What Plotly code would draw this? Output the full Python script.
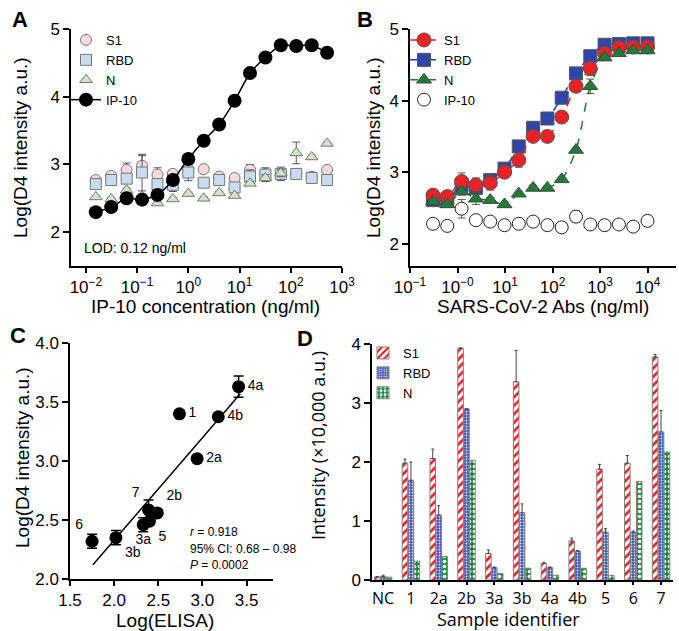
import plotly.graph_objects as go

W, H = 679, 631

# ---------------- Panel A data ----------------
a_conc = [0.015625, 0.03125, 0.0625, 0.125, 0.25, 0.5, 1, 2, 4, 8, 16, 32, 64, 128, 256, 512]
a_s1 = [2.77, 2.83, 2.92, 2.98, 2.85, 2.86, 2.93, 2.93, 2.82, 2.80, 2.92, 2.86, 2.85, 2.86, 2.82, 2.92]
a_s1_err = [0.02, 0.03, 0.10, 0.15, 0.10, 0.03, 0.05, 0.02, 0.02, 0.02, 0.08, 0.05, 0.06, 0.03, 0.02, 0.02]
a_rbd = [2.71, 2.77, 2.79, 2.88, 2.71, 2.70, 2.88, 2.73, 2.77, 2.66, 2.82, 2.85, 2.86, 2.86, 2.80, 2.77]
a_rbd_err = [0.03, 0.05, 0.05, 0.27, 0.05, 0.10, 0.12, 0.03, 0.03, 0.05, 0.10, 0.10, 0.10, 0.04, 0.03, 0.03]
a_n = [2.52, 2.49, 2.62, 2.53, 2.43, 2.49, 2.57, 2.50, 2.58, 2.54, 2.72, 2.80, 2.87, 3.17, 3.11, 3.31]
a_n_err = [0.02, 0.02, 0.03, 0.03, 0.03, 0.02, 0.02, 0.02, 0.02, 0.02, 0.03, 0.05, 0.05, 0.16, 0.03, 0.02]
a_ip10 = [2.295, 2.37, 2.50, 2.48, 2.55, 2.77, 3.08, 3.35, 3.59, 3.94, 4.35, 4.58, 4.76, 4.75, 4.76, 4.65]
a_ticks = [0.01, 0.1, 1, 10, 100, 1000]
a_ticktext = ["10<sup>−2</sup>", "10<sup>−1</sup>", "10<sup>0</sup>", "10<sup>1</sup>", "10<sup>2</sup>", "10<sup>3</sup>"]

# ---------------- Panel B data ----------------
b_conc = [0.305, 0.61, 1.22, 2.44, 4.88, 9.77, 19.5, 39.1, 78.1, 156.25, 312.5, 625, 1250, 2500, 5000, 10000]
b_s1 = [2.68, 2.66, 2.87, 2.82, 2.85, 3.00, 3.17, 3.50, 3.50, 3.77, 4.20, 4.45, 4.66, 4.74, 4.75, 4.75]
b_s1_err = [0.03, 0.03, 0.12, 0.10, 0.10, 0.08, 0.10, 0.03, 0.03, 0.08, 0.03, 0.10, 0.03, 0.02, 0.02, 0.02]
b_rbd = [2.61, 2.61, 2.82, 2.78, 2.89, 3.05, 3.36, 3.62, 3.75, 4.04, 4.38, 4.62, 4.78, 4.79, 4.80, 4.80]
b_rbd_err = [0.03, 0.03, 0.05, 0.05, 0.05, 0.05, 0.08, 0.03, 0.03, 0.03, 0.03, 0.03, 0.02, 0.02, 0.02, 0.02]
b_n = [2.59, 2.55, 2.73, 2.63, 2.61, 2.55, 2.70, 2.78, 2.78, 2.90, 3.31, 4.20, 4.60, 4.66, 4.70, 4.70]
b_n_err = [0.03, 0.03, 0.05, 0.08, 0.03, 0.03, 0.03, 0.03, 0.03, 0.03, 0.03, 0.10, 0.03, 0.02, 0.02, 0.02]
b_ip10 = [2.28, 2.25, 2.49, 2.33, 2.31, 2.26, 2.28, 2.31, 2.26, 2.23, 2.38, 2.27, 2.26, 2.27, 2.24, 2.32]
b_ip10_err = [0, 0, 0.13, 0.06, 0.02, 0.02, 0.02, 0.02, 0.02, 0.02, 0.08, 0.02, 0.02, 0.02, 0.02, 0.02]
b_ticks = [0.1, 1, 10, 100, 1000, 10000]
b_ticktext = ["10<sup>−1</sup>", "10<sup>−0</sup>", "10<sup>1</sup>", "10<sup>2</sup>", "10<sup>3</sup>", "10<sup>4</sup>"]

# ---------------- Panel C data ----------------
c_labels = ["1", "2a", "2b", "3a", "3b", "4a", "4b", "5", "6", "7"]
c_elisa = [2.74, 2.94, 2.49, 2.33, 2.02, 3.41, 3.18, 2.40, 1.75, 2.39]
c_d4 = [3.40, 3.02, 2.56, 2.46, 2.35, 3.63, 3.375, 2.49, 2.32, 2.585]
c_err = [0, 0, 0, 0.06, 0.06, 0.09, 0, 0.03, 0.06, 0.085]
c_label_pos = ["middle right", "middle right", "top right", "bottom center", "bottom right",
               "middle right", "middle right", "bottom right", "top left", "top left"]
c_fit_x = [1.76, 3.43]
c_fit_y = [2.12, 3.57]

# ---------------- Panel D data ----------------
d_cats = ["NC", "1", "2a", "2b", "3a", "3b", "4a", "4b", "5", "6", "7"]
d_s1 = [0.05, 1.98, 2.06, 3.93, 0.45, 3.36, 0.28, 0.66, 1.88, 1.98, 3.78]
d_s1_err = [0.01, 0.07, 0.16, 0.0, 0.06, 0.53, 0.02, 0.05, 0.08, 0.13, 0.04]
d_rbd = [0.06, 1.69, 1.10, 2.90, 0.21, 1.14, 0.21, 0.49, 0.81, 0.81, 2.51]
d_rbd_err = [0.02, 0.31, 0.16, 0.0, 0.01, 0.15, 0.01, 0.01, 0.06, 0.02, 0.36]
d_n = [0.05, 0.32, 0.40, 2.03, 0.11, 0.20, 0.08, 0.20, 0.08, 1.67, 2.17]

FONT = "Liberation Sans, Arial, sans-serif"
ALT = "Open Sans, Liberation Sans, sans-serif"


def px(x):
    return x / W


def py(y):
    return 1 - y / H


fig = go.Figure()

# ---- Panel A traces ----
eb = dict(type="data", thickness=1, width=4, color="#555")
fig.add_trace(go.Scatter(x=a_conc, y=a_s1, mode="markers", name="S1", legend="legend",
                         error_y=dict(array=a_s1_err, **eb),
                         marker=dict(symbol="circle", size=11, color="#fadadd", line=dict(color="#777", width=1)),
                         xaxis="x", yaxis="y"))
fig.add_trace(go.Scatter(x=a_conc, y=a_rbd, mode="markers", name="RBD", legend="legend",
                         error_y=dict(array=a_rbd_err, **eb),
                         marker=dict(symbol="square", size=11, color="#c6dcf1", line=dict(color="#777", width=1)),
                         xaxis="x", yaxis="y"))
fig.add_trace(go.Scatter(x=a_conc, y=a_n, mode="markers", name="N", legend="legend",
                         error_y=dict(array=a_n_err, **eb),
                         marker=dict(symbol="triangle-up", size=11, color="#cde6c4", line=dict(color="#777", width=1)),
                         xaxis="x", yaxis="y"))
fig.add_trace(go.Scatter(x=a_conc, y=a_ip10, mode="lines+markers", name="IP-10", legend="legend",
                         line=dict(color="black", width=1.5, shape="spline", smoothing=0.6),
                         marker=dict(symbol="circle", size=14, color="black"),
                         xaxis="x", yaxis="y"))

# ---- Panel B traces ----
fig.add_trace(go.Scatter(x=b_conc, y=b_rbd, mode="lines+markers", name="RBD", legend="legend2", legendrank=2,
                         error_y=dict(array=b_rbd_err, **eb),
                         line=dict(color="#2b3a9a", width=1.5, dash="dash", shape="spline", smoothing=0.8),
                         marker=dict(symbol="square", size=13, color="#2f45a8", line=dict(color="#555", width=1)),
                         xaxis="x2", yaxis="y2"))
fig.add_trace(go.Scatter(x=b_conc, y=b_s1, mode="lines+markers", name="S1", legend="legend2", legendrank=1,
                         error_y=dict(array=b_s1_err, **eb),
                         line=dict(color="#c8282a", width=1.5, dash="dash", shape="spline", smoothing=0.8),
                         marker=dict(symbol="circle", size=14, color="#ee2224", line=dict(color="#555", width=1)),
                         xaxis="x2", yaxis="y2"))
fig.add_trace(go.Scatter(x=b_conc, y=b_n, mode="lines+markers", name="N", legend="legend2", legendrank=3,
                         error_y=dict(array=b_n_err, **eb),
                         line=dict(color="#1f7a35", width=1.5, dash="dash", shape="spline", smoothing=0.8),
                         marker=dict(symbol="triangle-up", size=13, color="#1f7d36", line=dict(color="#444", width=1)),
                         xaxis="x2", yaxis="y2"))
fig.add_trace(go.Scatter(x=b_conc, y=b_ip10, mode="markers", name="IP-10", legend="legend2", legendrank=4,
                         error_y=dict(array=b_ip10_err, **eb),
                         marker=dict(symbol="circle", size=13, color="white", line=dict(color="#222", width=1)),
                         xaxis="x2", yaxis="y2"))

# ---- Panel C traces ----
fig.add_trace(go.Scatter(x=c_fit_x, y=c_fit_y, mode="lines", showlegend=False,
                         line=dict(color="black", width=1.5), xaxis="x3", yaxis="y3"))
fig.add_trace(go.Scatter(x=c_elisa, y=c_d4, mode="markers+text", showlegend=False,
                         text=c_labels, textposition=c_label_pos,
                         textfont=dict(family=FONT, size=14, color="black"),
                         error_y=dict(type="data", array=c_err, thickness=1.5, width=5, color="black"),
                         marker=dict(symbol="circle", size=13, color="black"),
                         xaxis="x3", yaxis="y3"))

# ---- Panel D traces ----
bar_line = dict(color="#808080", width=1)
ebd = dict(type="data", symmetric=False, arrayminus=[0] * len(d_cats), thickness=1, width=1.5, color="#444")
fig.add_trace(go.Bar(x=d_cats, y=d_s1, name="S1", legend="legend3",
                     error_y=dict(array=d_s1_err, **ebd),
                     marker=dict(color="white", line=bar_line,
                                 pattern=dict(shape="/", fgcolor="#ec1c24", bgcolor="white", size=6,
                                              solidity=0.45, fillmode="replace")),
                     xaxis="x4", yaxis="y4"))
fig.add_trace(go.Bar(x=d_cats, y=d_rbd, name="RBD", legend="legend3",
                     error_y=dict(array=d_rbd_err, **ebd),
                     marker=dict(color="#4256b4", line=bar_line,
                                 pattern=dict(shape=".", fgcolor="#dfe4f6", bgcolor="#4256b4", size=3,
                                              solidity=0.3, fillmode="replace")),
                     xaxis="x4", yaxis="y4"))
fig.add_trace(go.Bar(x=d_cats, y=d_n, name="N", legend="legend3",
                     marker=dict(color="#1d8a3c", line=bar_line,
                                 pattern=dict(shape=".", fgcolor="white", bgcolor="#1d8a3c", size=5,
                                              solidity=0.4, fillmode="replace")),
                     xaxis="x4", yaxis="y4"))

axis_common = dict(showline=True, linecolor="black", linewidth=1.5, ticks="outside", ticklen=6,
                   tickwidth=1.5, tickcolor="black", showgrid=False, zeroline=False, automargin=False,
                   tickfont=dict(family=FONT, size=17, color="black"))

LEG_FONT = dict(family=FONT, size=13, color="black")

fig.update_layout(
    width=W, height=H, margin=dict(l=0, r=0, t=0, b=0),
    paper_bgcolor="white", plot_bgcolor="white", template="none",
    font=dict(family=FONT, color="black"),
    barmode="group", bargap=0.36, bargroupgap=0.06,
    xaxis=dict(axis_common, type="log", range=[-2.29, 3.0], domain=[px(71), px(342)],
               tickvals=a_ticks, ticktext=a_ticktext, anchor="y", ticklen=5),
    yaxis=dict(axis_common, range=[1.5, 5], domain=[py(266), py(29)], tickvals=[2, 3, 4, 5], anchor="x"),
    xaxis2=dict(axis_common, type="log", range=[-1.0, 4.6], domain=[px(410), px(676)],
                tickvals=b_ticks, ticktext=b_ticktext, anchor="y2", ticklen=5),
    yaxis2=dict(axis_common, range=[1.69, 5], domain=[py(266), py(29)], tickvals=[2, 3, 4, 5], anchor="x2"),
    xaxis3=dict(axis_common, range=[1.5, 3.8], domain=[px(70), px(273)], ticklen=5,
                tickvals=[1.5, 2.0, 2.5, 3.0, 3.5], ticktext=["1.5", "2.0", "2.5", "3.0", "3.5"], anchor="y3"),
    yaxis3=dict(axis_common, range=[2.0, 4.0], domain=[py(579), py(343)],
                tickvals=[2.0, 2.5, 3.0, 3.5, 4.0], ticktext=["2.0", "2.5", "3.0", "3.5", "4.0"], anchor="x3"),
    xaxis4=dict(axis_common, type="category", range=[-0.4, 10.43], domain=[px(372), px(673)], anchor="y4",
                ticklen=3, tickfont=dict(family=ALT, size=16, color="black")),
    yaxis4=dict(axis_common, range=[0, 4], domain=[py(580), py(344)], tickvals=[0, 1, 2, 3, 4], anchor="x4"),
    legend=dict(x=px(66), y=py(25), xanchor="left", yanchor="top", bgcolor="rgba(0,0,0,0)",
                font=LEG_FONT, tracegroupgap=0, itemwidth=30),
    legend2=dict(x=px(404), y=py(25), xanchor="left", yanchor="top", bgcolor="rgba(0,0,0,0)",
                 font=LEG_FONT, tracegroupgap=0, itemwidth=30),
    legend3=dict(x=px(363), y=py(338), xanchor="left", yanchor="top", bgcolor="rgba(0,0,0,0)",
                 font=LEG_FONT, tracegroupgap=0, itemwidth=30),
)

ann = []


def add_text(x, y, text, size=19, angle=0, family=FONT, xanchor="center", bold=False):
    ann.append(dict(x=px(x), y=py(y), xref="paper", yref="paper", text=("<b>%s</b>" % text) if bold else text,
                    showarrow=False, textangle=angle, xanchor=xanchor, yanchor="middle",
                    font=dict(family=family, size=size, color="black")))


# axis titles
add_text(20, 148, "Log(D4 intensity a.u.)", angle=-90)
add_text(206, 307, "IP-10 concentration (ng/ml)")
add_text(373, 148, "Log(D4 intensity a.u.)", angle=-90)
add_text(543, 307, "SARS-CoV-2 Abs (ng/ml)")
add_text(22, 458, "Log(D4 intensity a.u.)", angle=-90)
add_text(165, 620, "Log(ELISA)")
add_text(318, 446, "Intensity (×10,000 a.u.)", size=18, angle=-90, family=ALT)
add_text(508, 619, "Sample identifier", size=18, family=ALT)
# panel letters
add_text(20, 20, "A", size=22, bold=True)
add_text(365, 20, "B", size=22, bold=True)
add_text(18, 335, "C", size=22, bold=True)
add_text(305, 338, "D", size=22, bold=True)
# notes
add_text(82, 248, "LOD: 0.12 ng/ml", size=14, xanchor="left")
add_text(188, 532, "<i>r</i> = 0.918", size=12, xanchor="left")
add_text(188, 549, "95% CI: 0.68 – 0.98", size=12, xanchor="left")
add_text(188, 565, "<i>P</i> = 0.0002", size=12, xanchor="left")

fig.update_layout(annotations=ann)

fig.write_html("out.html", config={"displayModeBar": False},
               post_script="document.body.style.margin='0';document.body.style.padding='0';")
